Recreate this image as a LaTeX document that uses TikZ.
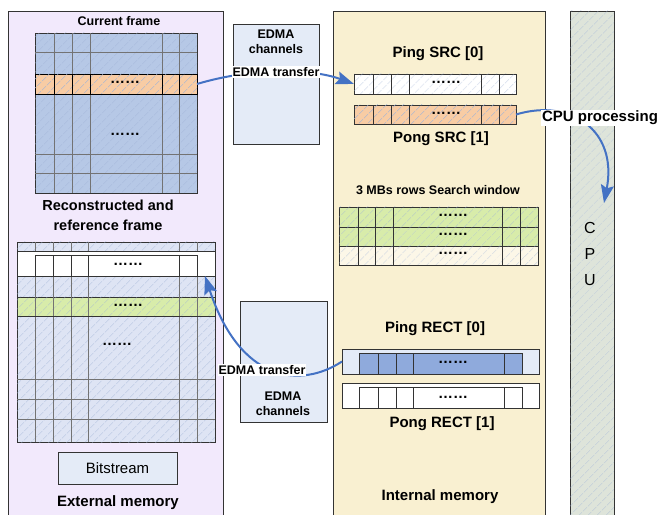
\documentclass[tikz,border=0pt]{standalone}
\usepackage{fontspec}
\setmainfont{Liberation Sans}
\usetikzlibrary{arrows.meta,patterns.meta,positioning}

\definecolor{extmem}{RGB}{242,233,252}
\definecolor{curblue}{RGB}{182,200,230}
\definecolor{refblue}{RGB}{222,228,244}
\definecolor{orow}{RGB}{248,204,164}
\definecolor{grow}{RGB}{216,236,170}
\definecolor{crow}{RGB}{252,247,232}
\definecolor{edmac}{RGB}{228,235,247}
\definecolor{intmem}{RGB}{249,240,209}
\definecolor{rectblue}{RGB}{143,170,220}
\definecolor{cpugrey}{RGB}{222,228,218}
\definecolor{hatchc}{RGB}{160,180,215}
\definecolor{flow}{RGB}{68,114,196}

\tikzset{
  blk/.style={draw=black!80,line width=0.7pt,inner sep=0pt,outer sep=0pt,anchor=south west},
  hatched/.style={postaction={pattern={Lines[angle=45,distance=6.5pt,line width=0.4pt]},pattern color=hatchc}},
  gridl/.style={draw=black!55,line width=0.6pt},
  big/.style={font=\bfseries\fontsize{15}{18}\selectfont},
  small/.style={font=\bfseries\fontsize{12.5}{15}\selectfont},
  dots/.style={font=\bfseries\fontsize{15}{15}\selectfont},
  flowline/.style={->,draw=flow,line width=2pt},
  tag/.style={small,fill=white,inner sep=1pt}
}

\begin{document}
\begin{tikzpicture}[x=1pt,y=1pt,>={Stealth[length=18pt,width=13pt,inset=3pt]}]
\useasboundingbox (0,0) rectangle (660,514);

% external memory
\node[blk,fill=extmem,minimum width=215,minimum height=505] (ext_mem) at (8,-2) {};
\node[small] (cur_title) at (119,493) {Current frame};
\node[blk,fill=curblue,hatched,minimum width=162,minimum height=160] (cur_frame) at (35,321) {};
\foreach \x in {54,72,90,162,179} \draw[gridl] (\x,321) -- (\x,481);
\foreach \y in {462,360,341} \draw[gridl] (35,\y) -- (197,\y);
\node[blk,draw=black,fill=orow,hatched,minimum width=162,minimum height=20] (cur_row) at (35,420) {};
\foreach \x in {54,72,90,162,179} \draw[black,line width=0.7pt] (\x,420) -- (\x,440);
\node[dots] at (125,432) {……};
\node[dots] at (125,380) {……};
\node[big,align=center,font=\bfseries\fontsize{14.5}{20}\selectfont] (ref_title) at (108,299) {Reconstructed and\\reference frame};

\node[blk,fill=refblue,hatched,minimum width=198,minimum height=200] (ref_frame) at (17,72) {};
\foreach \x in {35,53,71,88,179,197} \draw[gridl] (\x,72) -- (\x,272);
\foreach \y in {135,115,95} \draw[gridl] (17,\y) -- (215,\y);
\node[blk,fill=white,minimum width=198,minimum height=25] (ref_row) at (17,238) {};
\draw[gridl,draw=black!80] (35,238) rectangle (197,259);
\foreach \x in {53,71,88,179} \draw[gridl,draw=black!80] (\x,238) -- (\x,259);
\node[dots] at (128,250) {……};
\node[blk,fill=grow,hatched,minimum width=198,minimum height=19] (ref_green) at (17,198) {};
\foreach \x in {35,53,71,88,179,197} \draw[gridl] (\x,198) -- (\x,217);
\node[dots] at (128,209) {……};
\node[dots] at (117,170) {……};
\coordinate (rect_in) at (205,238);

\node[blk,anchor=center,fill=edmac,minimum width=119,minimum height=32,font=\fontsize{15}{18}\selectfont] (bitstream) at (117.5,46) {Bitstream};
\node[big] (ext_label) at (118,11) {External memory};

% EDMA
\node[blk,fill=edmac,minimum width=86,minimum height=120] (edma_top) at (233,370) {};
\node[small,align=center] (edma_top_txt) at (276,472) {EDMA\\channels};
\node[blk,fill=edmac,minimum width=87,minimum height=121] (edma_bot) at (240,92) {};
\node[small,align=center] (edma_bot_txt) at (283,110) {EDMA\\channels};

% internal memory
\node[blk,fill=intmem,minimum width=212,minimum height=505] (int_mem) at (333,-2) {};
\node[big] (ping_src_txt) at (438,460) {Ping SRC [0]};
\node[blk,fill=white,hatched,minimum width=162,minimum height=20] (ping_src) at (354,420) {};
\node[blk,fill=orow,hatched,minimum width=162,minimum height=19] (pong_src) at (354,390) {};
\foreach \x in {373,391,409,481,499} \draw[gridl,draw=black!80] (\x,420) -- (\x,440) (\x,390) -- (\x,409);
\node[dots] at (446,432) {……};
\node[dots] at (446,401) {……};
\node[big] (pong_src_txt) at (441,375) {Pong SRC [1]};

\node[small] (search_txt) at (438,324) {3 MBs rows Search window};
\node[blk,fill=grow,hatched,minimum width=199,minimum height=20] (search_a) at (339,287) {};
\node[blk,fill=grow,hatched,minimum width=199,minimum height=19] (search_b) at (339,268) {};
\node[blk,fill=crow,hatched,minimum width=199,minimum height=19] (search_c) at (339,249) {};
\foreach \x in {358,375,393,502,520} \draw[gridl,draw=black!80] (\x,249) -- (\x,307);
\foreach \y in {299,280,261} \node[dots] at (453,\y) {……};

\node[big] (ping_rect_txt) at (435,185) {Ping RECT [0]};
\node[blk,fill=edmac,minimum width=197,minimum height=25] (ping_rect) at (342,140) {};
\node[blk,fill=rectblue,minimum width=163,minimum height=21] (ping_cells) at (359,140) {};
\node[blk,fill=white,minimum width=197,minimum height=25] (pong_rect) at (342,106) {};
\node[blk,fill=white,minimum width=163,minimum height=21] (pong_cells) at (359,106) {};
\foreach \x in {378,396,413,504} \draw[gridl,draw=black!80] (\x,140) -- (\x,161) (\x,106) -- (\x,127);
\node[dots] at (453,152) {……};
\node[dots] at (453,117) {……};
\node[big] (pong_rect_txt) at (442,90) {Pong RECT [1]};
\node[big] (int_label) at (440,17) {Internal memory};

% CPU
\node[blk,fill=cpugrey,hatched,minimum width=44,minimum height=505] (cpu) at (570,-2) {};
\node[align=center,font=\fontsize{16}{26}\selectfont] (cpu_txt) at (590,260) {C\\P\\U};

% transfers
\draw[flowline] (cur_row.east) .. controls (250,446) and (310,446) .. (ping_src.west);
\node[tag] (edma_in) at (276,442) {EDMA transfer};
\draw[flowline] (ping_rect.west) .. controls (300,125) and (240,132) .. (rect_in);
\node[tag] (edma_out) at (262,144) {EDMA transfer};
\draw[flowline] (pong_src.east) .. controls (570,416) and (618,384) .. (604,311);
\node[big,fill=white,inner sep=1pt] (cpu_proc) at (600,396) {CPU processing};
\end{tikzpicture}
\end{document}
